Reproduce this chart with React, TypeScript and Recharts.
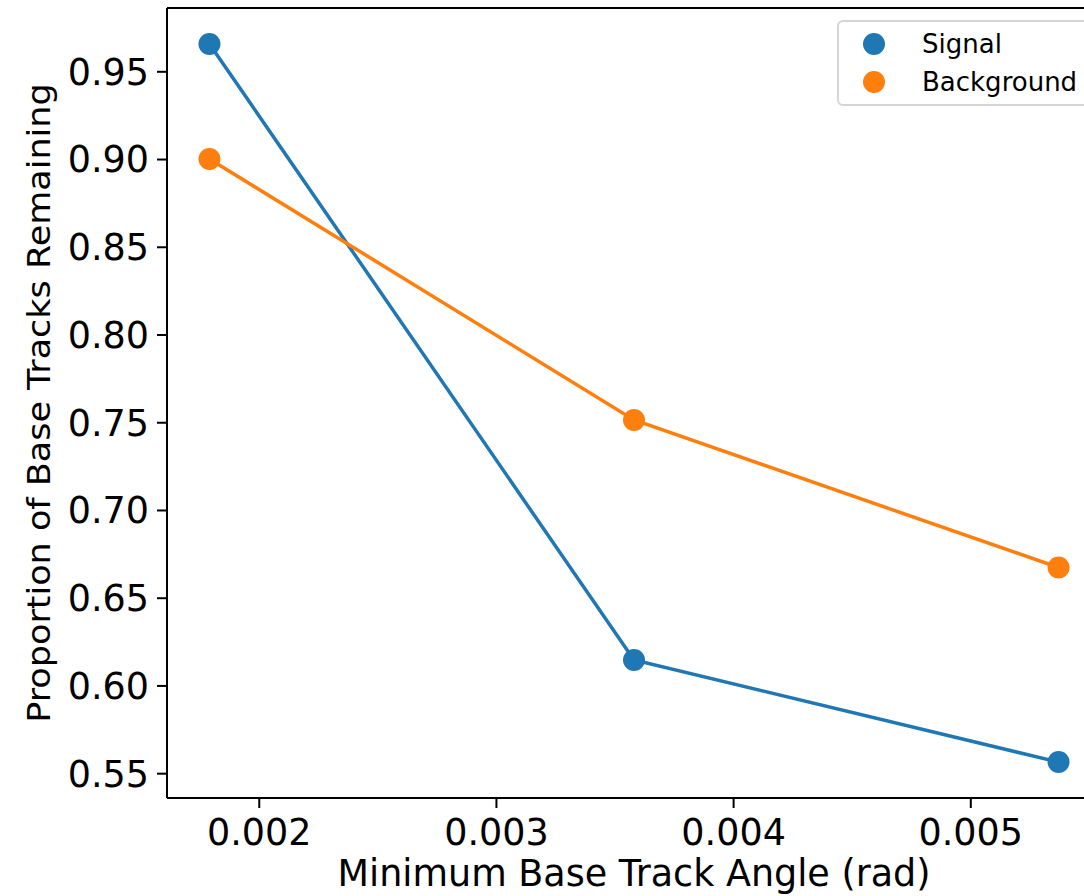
import { LineChart, Line, XAxis, YAxis, ReferenceLine } from 'recharts';

// minimum base track angle (rad)
const angles = [0.00179, 0.00358, 0.00537];
const signalValues = [0.9659, 0.6148, 0.5566];
const backgroundValues = [0.9003, 0.7516, 0.6675];

const xTicks = [0.002, 0.003, 0.004, 0.005];
const yTicks = [0.55, 0.6, 0.65, 0.7, 0.75, 0.8, 0.85, 0.9, 0.95];

const seriesNames = ['Signal', 'Background'];
const SIGNAL = '#1f77b4';
const BACKGROUND = '#ff7f0e';
const seriesColors = [SIGNAL, BACKGROUND];
const FONT = '"DejaVu Sans", sans-serif';

const data = angles.map((x, i) => ({
  x,
  signal: signalValues[i],
  background: backgroundValues[i],
}));

// matplotlib style 5% margins
const xSpan = angles[angles.length - 1] - angles[0];
const xDomain: [number, number] = [angles[0] - xSpan * 0.05, angles[angles.length - 1] + xSpan * 0.05];
const allY = [...signalValues, ...backgroundValues];
const yMin = Math.min(...allY);
const yMax = Math.max(...allY);
const yDomain: [number, number] = [yMin - (yMax - yMin) * 0.05, yMax + (yMax - yMin) * 0.05];

const YLabel = ({ viewBox }: any) => {
  const cy = viewBox.y + viewBox.height / 2;
  return (
    <text
      transform={`translate(50, ${cy}) scale(0.9, 1) rotate(-90)`}
      textAnchor="middle"
      fontSize={35}
      fontFamily={FONT}
      fill="#000"
    >
      Proportion of Base Tracks Remaining
    </text>
  );
};

const XLabel = ({ viewBox }: any) => {
  const cx = viewBox.x + viewBox.width / 2;
  return (
    <text x={cx} y={886} textAnchor="middle" fontSize={36.5} fontFamily={FONT} fill="#000">
      Minimum Base Track Angle (rad)
    </text>
  );
};

// legend drawn outside the svg so it doesn't eat plot space
const LegendBox = () => (
  <div
    style={{
      position: 'absolute',
      left: 837,
      top: 20,
      border: '2px solid #d5d5d5',
      borderRadius: 6,
      background: '#fff',
      padding: '3px 0',
      width: 280,
      fontFamily: FONT,
      fontSize: 26,
      color: '#000',
      boxSizing: 'border-box',
    }}
  >
    {seriesNames.map((name, i) => (
      <div key={name} style={{ display: 'flex', alignItems: 'center', height: 38 }}>
        <span
          style={{
            display: 'inline-block',
            width: 22,
            height: 22,
            borderRadius: '50%',
            background: seriesColors[i],
            marginLeft: 24,
            marginRight: 37,
          }}
        />
        <span>{name}</span>
      </div>
    ))}
  </div>
);

export default function App() {
  return (
    <div style={{ position: 'absolute', left: 0, top: 0, width: 1084, height: 896, overflow: 'hidden', background: '#fff' }}>
      <LineChart width={1110} height={896} data={data} margin={{ top: 8, right: 9, left: 0, bottom: 0 }}>
        <XAxis
          type="number"
          dataKey="x"
          domain={xDomain}
          ticks={xTicks}
          allowDataOverflow
          height={98}
          tickSize={10}
          tickMargin={11}
          tickFormatter={(v: number) => v.toFixed(3)}
          tick={{ fontSize: 36.5, fontFamily: FONT, fill: '#000' }}
          axisLine={{ stroke: '#000', strokeWidth: 2 }}
          tickLine={{ stroke: '#000', strokeWidth: 2 }}
          label={<XLabel />}
        />
        <YAxis
          type="number"
          domain={yDomain}
          ticks={yTicks}
          allowDataOverflow
          width={167}
          tickSize={10}
          tickMargin={8}
          tickFormatter={(v: number) => v.toFixed(2)}
          tick={{ fontSize: 36.5, fontFamily: FONT, fill: '#000' }}
          axisLine={{ stroke: '#000', strokeWidth: 2 }}
          tickLine={{ stroke: '#000', strokeWidth: 2 }}
          label={<YLabel />}
        />
        <ReferenceLine y={yDomain[1]} stroke="#000" strokeWidth={2} />
        <ReferenceLine x={xDomain[1]} stroke="#000" strokeWidth={2} />
        <Line
          dataKey="signal"
          name={seriesNames[0]}
          stroke={SIGNAL}
          strokeWidth={3.5}
          dot={{ r: 11, fill: SIGNAL, stroke: 'none' }}
          activeDot={false}
          isAnimationActive={false}
        />
        <Line
          dataKey="background"
          name={seriesNames[1]}
          stroke={BACKGROUND}
          strokeWidth={3.5}
          dot={{ r: 11, fill: BACKGROUND, stroke: 'none' }}
          activeDot={false}
          isAnimationActive={false}
        />
      </LineChart>
      <LegendBox />
    </div>
  );
}
